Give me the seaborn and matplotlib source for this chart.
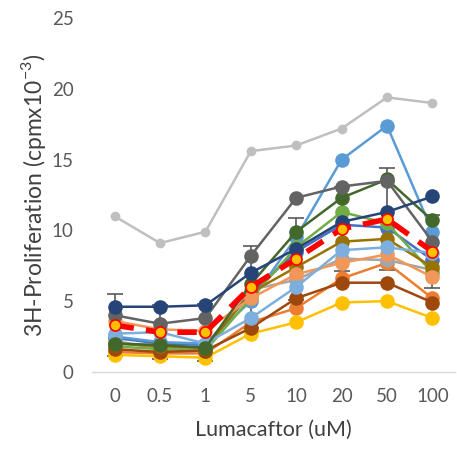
import matplotlib
matplotlib.use('Agg')
import matplotlib.pyplot as plt
import seaborn as sns
import pandas as pd

# concentrations (categorical x axis)
conc = ['0', '0.5', '1', '5', '10', '20', '50', '100']

# individual donors
blue = [2.4, 2.0, 1.9, 5.5, 8.5, 10.4, 10.2, 7.9]
orange = [1.4, 1.3, 1.3, 3.5, 4.5, 6.6, 7.7, 5.2]
gray = [2.2, 1.6, 1.6, 5.8, 6.5, 8.0, 7.9, 7.2]
yellow = [1.2, 1.1, 1.0, 2.7, 3.5, 4.9, 5.0, 3.8]
light_blue = [2.5, 2.1, 2.0, 5.0, 9.5, 15.0, 17.4, 9.9]
green = [1.8, 1.6, 1.5, 5.2, 8.8, 11.3, 10.5, 7.0]
brown = [1.6, 1.4, 1.5, 3.1, 5.2, 6.3, 6.3, 4.9]
gold = [2.0, 1.8, 1.7, 5.6, 7.4, 9.2, 9.4, 7.4]
light_orange = [3.6, 3.0, 2.9, 5.2, 6.9, 7.7, 8.3, 6.7]
sky_blue = [2.7, 2.8, 2.0, 3.8, 6.0, 8.6, 8.8, 8.4]
dark_green = [2.0, 1.9, 1.7, 6.2, 9.9, 12.3, 13.6, 10.7]
dark_gray = [4.0, 3.4, 3.8, 8.2, 12.3, 13.1, 13.5, 9.2]
navy = [4.6, 4.6, 4.7, 7.0, 8.7, 10.6, 11.3, 12.4]
top_gray = [11.0, 9.1, 9.9, 15.6, 16.0, 17.2, 19.4, 19.0]

# mean and SD
mean = [3.3, 2.8, 2.8, 6.0, 8.0, 10.1, 10.8, 8.5]
sd = [2.2, 1.9, 2.0, 2.9, 2.9, 3.0, 3.6, 2.6]

series = [
    (top_gray, '#BFBFBF', 7),
    (blue, '#4472C4', 10.5),
    (orange, '#ED7D31', 10.5),
    (gray, '#A5A5A5', 10.5),
    (yellow, '#FFC000', 10.5),
    (light_blue, '#5B9BD5', 10.5),
    (green, '#70AD47', 10.5),
    (brown, '#9E480E', 10.5),
    (gold, '#997300', 10.5),
    (light_orange, '#F1975A', 10.5),
    (sky_blue, '#7CAFDD', 10.5),
    (dark_green, '#43682B', 10.5),
    (dark_gray, '#636363', 10.5),
    (navy, '#264478', 10.5),
]

sns.set_style('white')
plt.rcParams['font.family'] = ['Lato', 'DejaVu Sans']
plt.rcParams['mathtext.fontset'] = 'custom'
plt.rcParams['mathtext.rm'] = 'Lato'

fig = plt.figure(figsize=(4.57, 4.54), dpi=100)
ax = fig.add_axes([0.201, 0.181, 0.795, 0.779])

# error bars of the mean (behind the markers)
ax.errorbar(conc, mean, yerr=sd, fmt='none', ecolor='#595959',
            elinewidth=1.2, capsize=6, capthick=1.2, zorder=1)

for vals, col, ms in series:
    df = pd.DataFrame({'conc': conc, 'val': vals})
    sns.lineplot(data=df, x='conc', y='val', color=col, marker='o',
                 markersize=ms, markeredgewidth=0, linewidth=1.8,
                 sort=False, ax=ax, zorder=2)

df_mean = pd.DataFrame({'conc': conc, 'val': mean})
sns.lineplot(data=df_mean, x='conc', y='val', color='#FF0000', marker='o',
             markersize=8, markerfacecolor='#FFC000', markeredgecolor='#FF0000',
             markeredgewidth=1.2, linewidth=4, dashes=False, sort=False,
             ax=ax, zorder=3)
ax.lines[-1].set_linestyle((0, (3.5, 2.2)))

ax.set_xlim(-0.5, 7.5)
ax.set_ylim(0, 25)
ax.set_yticks([0, 5, 10, 15, 20, 25])
for s in ['left', 'right', 'top']:
    ax.spines[s].set_visible(False)
ax.spines['bottom'].set_color('#D9D9D9')
ax.spines['bottom'].set_linewidth(1)
ax.tick_params(axis='both', length=0, labelsize=13.5, colors='#595959')
ax.tick_params(axis='y', pad=13)
ax.tick_params(axis='x', pad=12)
ax.set_xlabel('Lumacaftor (uM)', fontsize=15.5, color='#404040', labelpad=10)
ax.set_ylabel(r'3H-Proliferation (cpmx10$^{-3}$)', fontsize=16.5,
              color='#404040', labelpad=3)

fig.savefig('out.png', dpi=100)
